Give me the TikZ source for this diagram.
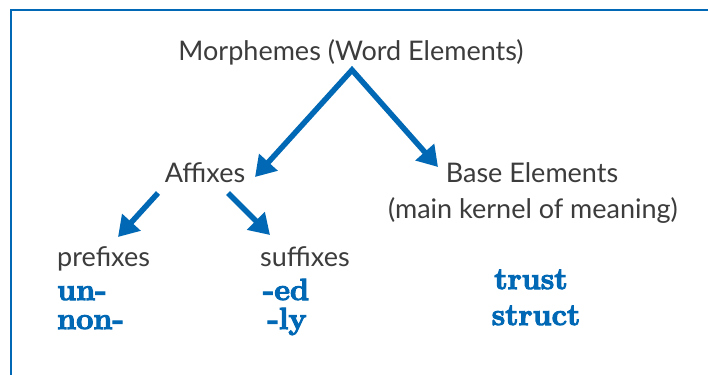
\documentclass[tikz,border=0pt]{standalone}
\usepackage{fontspec}
\newfontfamily\labelfont{Lato}
\newfontfamily\exfont{Latin Modern Roman}[BoldFeatures={FakeBold=3.5}]
\usetikzlibrary{arrows.meta}
\definecolor{mblue}{HTML}{0068B4}
\definecolor{mgray}{HTML}{3C3C3C}
\tikzset{
  lbl/.style={inner sep=0pt, anchor=base, text=mgray, font=\labelfont\fontsize{27bp}{33bp}\selectfont},
  ex/.style={inner sep=0pt, anchor=base, text=mblue, font=\exfont\bfseries\fontsize{30.5bp}{36bp}\selectfont},
  bigarr/.style={draw=mblue, line width=5.5bp, line join=miter, -{Triangle[width=24bp,length=20bp]}},
  border/.style={draw=mblue, line width=2.6bp}
}
\begin{document}
\begin{tikzpicture}[x=1bp,y=-1bp]
\useasboundingbox (0,0) rectangle (708,374);
\fill[white] (0,0) rectangle (708,374);
\draw[border] (11,376) -- (11,10) -- (710,10);
% labels
\node[lbl] (morph) at (351,60) {Morphemes (Word Elements)};
\node[lbl] (aff) at (205,182) {Affixes};
\node[lbl] (base) at (532,182) {Base Elements};
\node[lbl] (kernel) at (533,218) {(main kernel of meaning)};
\node[lbl, anchor=base west] (pre) at (57,266) {prefixes};
\node[lbl, anchor=base west] (suf) at (260,266) {suffixes};
% examples
\node[ex, anchor=base west] (un) at (57,300) {un-};
\node[ex, anchor=base west] (non) at (57,329) {non-};
\node[ex] (ed) at (286,300) {-ed};
\node[ex] (ly) at (287,329) {-ly};
\node[ex] (trust) at (531,289) {trust};
\node[ex] (struct) at (536,325) {struct};
% connector points
\coordinate (apex) at (352,70);
\coordinate (afftip) at (255,177);
\coordinate (basetip) at (438,167);
\coordinate (affL) at (158,193);
\coordinate (affR) at (228,193);
\coordinate (pretip) at (118,237);
\coordinate (suftip) at (270,235);
% arrows
\draw[bigarr, {Triangle[width=24bp,length=20bp]}-{Triangle[width=24bp,length=20bp]}] (afftip) -- (apex) -- (basetip);
\draw[bigarr] (affL) -- (pretip);
\draw[bigarr] (affR) -- (suftip);
\end{tikzpicture}
\end{document}
